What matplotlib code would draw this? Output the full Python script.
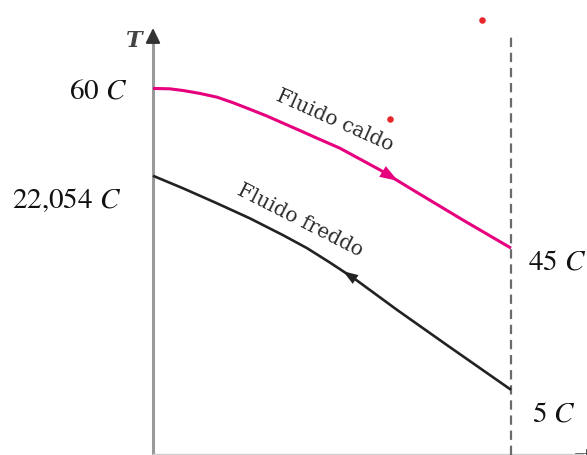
import numpy as np
import matplotlib
matplotlib.use("Agg")
import matplotlib.pyplot as plt

plt.rcParams['mathtext.fontset'] = 'stix'

# ---- data (schematic units: x = position along exchanger 0..1, y = relative height 0..1) ----
hot_x = [0.0, 0.047, 0.084, 0.131, 0.179, 0.223, 0.271, 0.318, 0.363, 0.411,
         0.458, 0.522, 0.634, 0.726, 0.866, 1.0]
hot_y = [0.877, 0.876, 0.872, 0.865, 0.856, 0.843, 0.827, 0.811, 0.794, 0.776,
         0.758, 0.734, 0.682, 0.634, 0.562, 0.495]
cold_x = [0.0, 0.084, 0.179, 0.271, 0.363, 0.430, 0.494, 0.564, 0.682, 0.821, 1.0]
cold_y = [0.668, 0.638, 0.602, 0.566, 0.526, 0.495, 0.4605, 0.421, 0.347, 0.263, 0.156]

temp_labels = ["60", "22,054", "45", "5"]
temp_label_x = [-0.0707, -0.0874, 1.048, 1.058]
temp_label_y = [0.853, 0.590, 0.443, 0.080]
temp_label_ha = ["right", "right", "left", "left"]

fluid_names = ["Fluido caldo", "Fluido freddo"]
fluid_label_x = [0.501, 0.404]
fluid_label_y = [0.787, 0.550]
fluid_label_rot = [-24, -27]

dots_x = [0.919, 0.662]
dots_y = [1.041, 0.804]

hot_color = "#E6007E"
cold_color = "#222222"

fig = plt.figure(figsize=(5.87, 4.55), dpi=100)
ax = fig.add_axes([0, 0, 1, 1])
ax.set_xlim(-153 / 358, (587 - 153) / 358)
ax.set_ylim(0, 455 / 418)
ax.axis("off")

# vertical T axis
ax.plot([0, 0], [0, 0.995], color="#9a9a9a", lw=2.2, solid_capstyle="butt")
ax.annotate("", xy=(0, 1.0215), xytext=(0, 0.99),
            arrowprops=dict(arrowstyle="-|>,head_length=0.45,head_width=0.22",
                            mutation_scale=20, color="#333333", lw=1.5, shrinkA=0, shrinkB=0))
ax.text(-0.053, 0.976, "T", fontsize=16, fontfamily="DejaVu Serif", style="italic",
        fontweight="bold", color="#444444", ha="center", va="baseline")

# bottom axis (faint)
ax.plot([0, 1.2], [0.002, 0.002], color="#d0d0d0", lw=1.0)
ax.annotate("", xy=(1.235, 0.004), xytext=(1.18, 0.004), annotation_clip=False,
            arrowprops=dict(arrowstyle="-|>", mutation_scale=14, color="#333333",
                            lw=0.5, shrinkA=0, shrinkB=0))

# dashed vertical line at exchanger end
ax.plot([1.0, 1.0], [0, 1.0], color="#6b6b6b", lw=1.6, linestyle=(0, (4.2, 2.6)))

# curves
ax.plot(hot_x, hot_y, color=hot_color, lw=2.2, solid_capstyle="butt",
        solid_joinstyle="round")
ax.plot(cold_x, cold_y, color=cold_color, lw=1.9, solid_capstyle="butt",
        solid_joinstyle="round")

# flow direction arrows
def head(xs, ys, at, direction, color, ms):
    y = np.interp(at, xs, ys)
    x0 = at - direction * 0.03
    y0 = np.interp(x0, xs, ys)
    ax.annotate("", xy=(at, y), xytext=(x0, y0),
                arrowprops=dict(arrowstyle="-|>,head_length=0.43,head_width=0.15",
                                mutation_scale=ms, color=color, lw=0.01,
                                shrinkA=0, shrinkB=0))

head(hot_x, hot_y, 0.684, 1, hot_color, 30)
head(cold_x, cold_y, 0.531, -1, cold_color, 25)

# red dots
ax.scatter(dots_x, dots_y, s=22, color="#E8262A", zorder=5, linewidths=0)

# temperature labels
for t, x, y, ha in zip(temp_labels, temp_label_x, temp_label_y, temp_label_ha):
    ax.text(x, y, t + r" $C$", fontsize=21, fontfamily="STIXGeneral",
            ha=ha, va="baseline", color="#111111")

# fluid labels
for name, x, y, r in zip(fluid_names, fluid_label_x, fluid_label_y, fluid_label_rot):
    ax.text(x, y, name, fontsize=14.5, fontfamily="DejaVu Serif", rotation=r,
            rotation_mode="anchor", ha="center", va="baseline", color="#2b2b2b")

fig.savefig("out.png", dpi=100)
